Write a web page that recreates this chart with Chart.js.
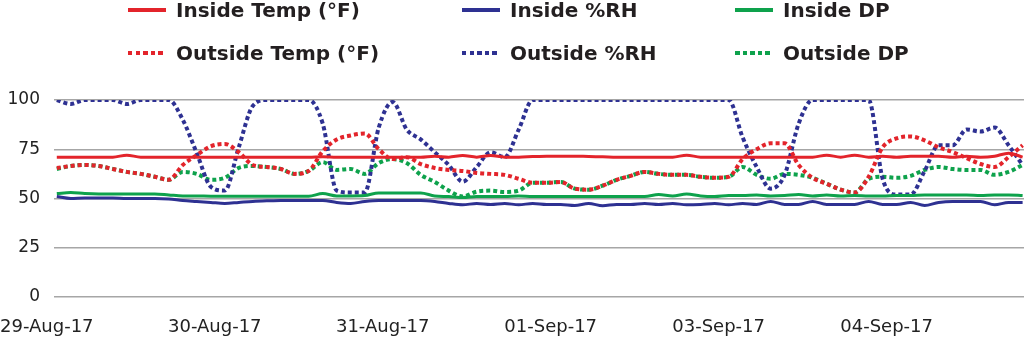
<!DOCTYPE html>
<html>
<head>
<meta charset="utf-8">
<script src="https://cdn.jsdelivr.net/npm/chart.js@4.4.0/dist/chart.umd.min.js"></script>
<style>
  html, body { margin: 0; padding: 0; background: #fff; }
  #wrap { position: relative; width: 1024px; height: 364px; overflow: hidden; }
  #legend { position: absolute; left: 0; top: 0; width: 1024px; height: 80px;
            font: bold 20px "DejaVu Sans", sans-serif; color: #231f20; }
  .item { position: absolute; display: flex; align-items: center; height: 24px; white-space: nowrap; }
  .item i { display: inline-block; width: 38px; height: 4px; margin-right: 10px; }
</style>
</head>
<body>
<div id="wrap">
  <canvas id="c" width="1024" height="364"></canvas>
  <div id="legend"></div>
</div>
<script>
// Readings, one point every two hours-ish; a date label every 12 points
const dayLabels = ["29-Aug-17", "30-Aug-17", "31-Aug-17", "01-Sep-17", "03-Sep-17", "04-Sep-17"];
const labelEvery = 12;

const insideTemp = [
  71, 71, 71, 71, 71, 72, 71, 71, 71, 71,
  71, 71, 71, 71, 71, 71, 71, 71, 71, 71.2,
  71, 71, 71, 71, 71, 71, 71, 71.5, 71, 71.8,
  71, 71.8, 71, 71, 71.3, 71.5, 71.5, 71.5, 71.3, 71.2,
  71, 71, 71, 71, 71, 72, 71, 71, 71, 71,
  71, 71, 71, 71, 71, 72, 71, 72, 71, 71.5,
  71, 71.5, 71.5, 71.5, 71, 71.5, 71, 71.5, 73, 71
];
const insideRH = [
  51, 50, 50.3, 50.3, 50.3, 50, 50, 50, 49.8, 49,
  48.5, 48, 47.5, 48, 48.5, 48.8, 49, 49, 49, 49,
  48, 47.5, 48.5, 49, 49, 49, 49, 48.5, 47.5, 46.8,
  47.5, 47, 47.5, 46.8, 47.5, 47, 47, 46.5, 47.5, 46.3,
  47, 47, 47.5, 47, 47.5, 46.8, 47, 47.5, 46.8, 47.5,
  47, 48.5, 47, 47, 48.5, 47, 47, 47, 48.5, 47,
  47, 48, 46.5, 48, 48.5, 48.5, 48.5, 46.8, 48, 48
];
const insideDP = [
  52.5, 53, 52.5, 52.3, 52.3, 52.3, 52.3, 52.3, 51.8, 51.3,
  51.3, 51.2, 51.2, 51.2, 51.2, 51.2, 51.2, 51.2, 51.2, 52.5,
  51.3, 51.3, 51.5, 52.8, 52.8, 52.8, 52.8, 51.3, 51, 50.5,
  51, 51, 51, 51.3, 51, 51, 51, 51, 51, 51,
  51, 51, 51, 52, 51.3, 52.3, 51.3, 51, 51.5, 51.5,
  51.8, 51.3, 51.5, 52, 51.3, 51.8, 51.3, 51.5, 51.3, 51.3,
  51.5, 51.5, 51.8, 51.8, 51.8, 51.8, 51.5, 51.8, 51.8, 51.5
];
const outsideTemp = [
  65.5, 66.5, 67, 66.5, 65, 63.5, 62.5, 61, 59.5, 67,
  72, 76.5, 77.7, 73.5, 67, 66, 65, 62.5, 64, 74,
  80, 82, 83, 75, 70, 71, 67.5, 65.5, 64.5, 64,
  63, 62.5, 62, 60, 58, 58, 58.4, 55, 54.5, 56.5,
  59.5, 61.5, 63.5, 62.5, 62, 62, 61, 60.5, 61, 70,
  75, 78, 78, 67, 60.5, 57.5, 54.5, 53, 61, 76,
  80.5, 81.5, 79.5, 76, 73.6, 70.5, 67.5, 66, 71, 77
];
const outsideRH = [
  100, 98, 100, 100, 100, 98, 100, 100, 100, 90,
  73, 56, 54, 76, 97, 100, 100, 100, 100, 88,
  54, 53, 53, 86, 99, 85, 80, 73.5, 67, 58.5,
  66, 73.5, 71, 85, 100, 100, 100, 100, 100, 100,
  100, 100, 100, 100, 100, 100, 100, 100, 100, 81,
  66, 55, 62, 88, 100, 100, 100, 100, 100, 60,
  52, 52, 64, 77, 77, 85, 84, 86, 77, 67
];
const outsideDP = [
  65, 66.5, 67, 66.5, 65, 63.5, 62.5, 61, 59.5, 63.5,
  62.5, 59.5, 60.5, 65.5, 66.5, 66, 65, 62.5, 64, 68.5,
  64.5, 65, 62.5, 68, 70, 68, 62, 58.4, 54, 51,
  53.5, 54, 53.3, 54, 58, 58, 58.4, 55, 54.5, 56.5,
  59.5, 61.5, 63.5, 62.5, 62, 62, 61, 60.5, 61, 66,
  62, 60, 62.5, 62, 60.5, 57.5, 54.5, 53, 60, 61,
  60.5, 61.5, 64.5, 66, 65, 64.5, 64.5, 62, 63.5, 67
];

const RED = "#e3242b", BLUE = "#2e3192", GREEN = "#0ea24c";
const steps = insideTemp.map((_, i) => i);

function line(label, data, color, dotted) {
  return {
    label, data, borderColor: color, backgroundColor: color,
    borderWidth: dotted ? 4 : 3, borderDash: dotted ? [4, 3] : [],
    borderCapStyle: "butt", pointRadius: 0, cubicInterpolationMode: "monotone", dotted
  };
}

const datasets = [
  line("Inside Temp (°F)", insideTemp, RED, false),
  line("Inside %RH", insideRH, BLUE, false),
  line("Inside DP", insideDP, GREEN, false),
  line("Outside Temp (°F)", outsideTemp, RED, true),
  line("Outside %RH", outsideRH, BLUE, true),
  line("Outside DP", outsideDP, GREEN, true),
];

const chart = new Chart(document.getElementById("c").getContext("2d"), {
  type: "line",
  data: { labels: steps, datasets },
  options: {
    responsive: false, animation: false,
    layout: { padding: { top: 100, left: 0, right: 0, bottom: 0 } },
    plugins: { legend: { display: false }, tooltip: { enabled: false } },
    scales: {
      x: {
        type: "linear", min: -0.2, max: 69.1,
        grid: { display: false, drawTicks: false }, border: { display: false },
        afterBuildTicks: (s) => { s.ticks = dayLabels.map((_, k) => ({ value: k * labelEvery })); },
        // first label hangs off the left edge like the original, so drop the auto padding
        afterFit: (s) => { s.height = 67; s.paddingLeft = 0; s.paddingRight = 0; },
        ticks: {
          autoSkip: false, maxRotation: 0, padding: 20, labelOffset: -10, color: "#222",
          font: { family: "DejaVu Sans", size: 18 },
          callback: (v) => dayLabels[Math.round(v / labelEvery)]
        }
      },
      y: {
        min: 0, max: 100,
        grid: { color: "#a6a6a6", lineWidth: 1.5, drawTicks: false }, border: { display: false },
        afterFit: (s) => { s.width = 54; },
        ticks: { stepSize: 25, padding: 14, color: "#222", font: { family: "DejaVu Sans", size: 17 } }
      }
    }
  }
});

// legend: 3 columns x 2 rows, built from the chart's datasets
const colX = [128, 462, 735];
const rowY = [-2, 41];
document.getElementById("legend").innerHTML = chart.data.datasets.map((d, k) => {
  const bg = d.dotted
    ? `repeating-linear-gradient(90deg, ${d.borderColor} 0 4.5px, transparent 4.5px 7.6px)`
    : d.borderColor;
  return `<div class="item" style="left:${colX[k % 3]}px;top:${rowY[Math.floor(k / 3)]}px">` +
         `<i style="background:${bg}"></i>${d.label}</div>`;
}).join("");
</script>
</body>
</html>
